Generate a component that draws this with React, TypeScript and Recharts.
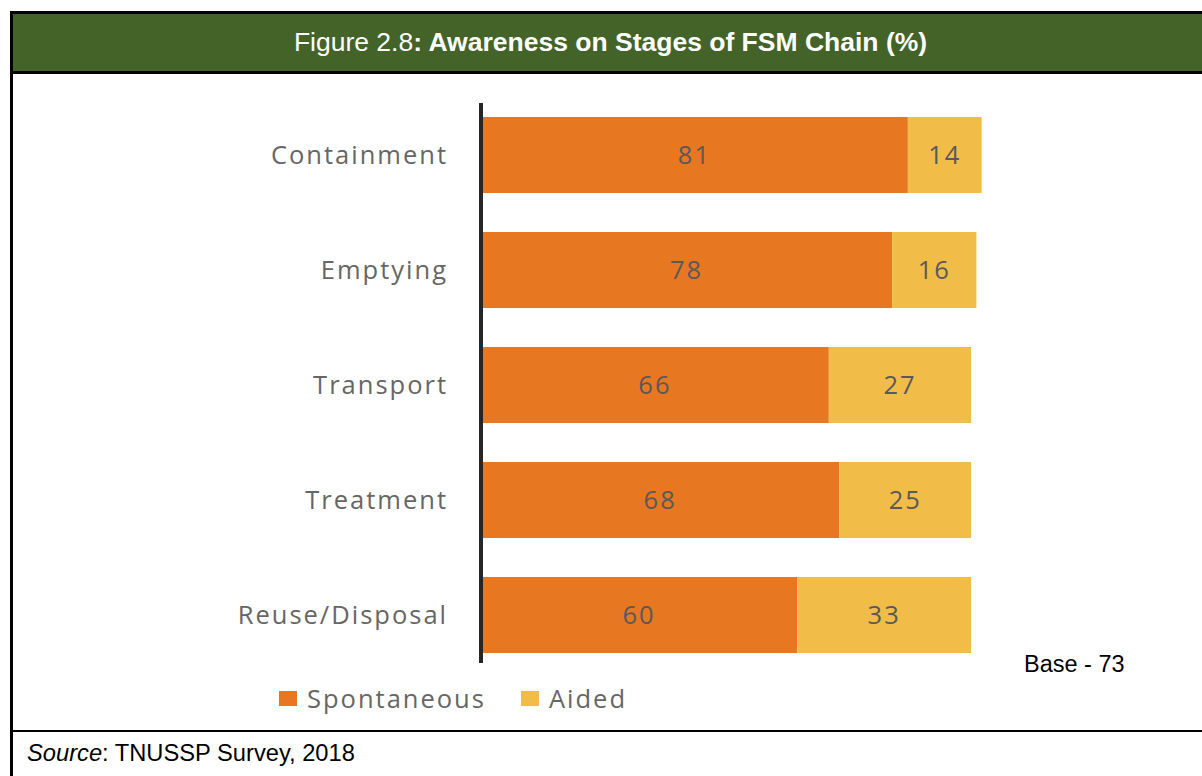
import React from "react";
import { BarChart, Bar, XAxis, YAxis, LabelList } from "recharts";

const categories = ["Containment", "Emptying", "Transport", "Treatment", "Reuse/Disposal"];
const spontaneous = [81, 78, 66, 68, 60];
const aided = [14, 16, 27, 25, 33];
const seriesNames = ["Spontaneous", "Aided"];
const seriesColors = ["#E87722", "#F1BD48"];

const data = categories.map((c, i) => ({ name: c, spontaneous: spontaneous[i], aided: aided[i] }));

const labelFont = { fontFamily: "'Open Sans', sans-serif", fontSize: 25.5, letterSpacing: 2 };

export default function App() {
  return (
    <div style={{ position: "absolute", left: 0, top: 0, width: 1202, height: 776, background: "#fff", overflow: "hidden", fontFamily: "'Liberation Sans', Arial, sans-serif" }}>
      {/* frame */}
      <div style={{ position: "absolute", left: 10, top: 11, width: 3, height: 765, background: "#000" }} />
      <div style={{ position: "absolute", left: 10, top: 11, width: 1192, height: 3, background: "#000" }} />
      <div style={{ position: "absolute", left: 13, top: 14, width: 1189, height: 57, background: "#436329" }} />
      <div style={{ position: "absolute", left: 10, top: 71, width: 1192, height: 2.5, background: "#000" }} />
      <div style={{ position: "absolute", left: 10, top: 729.5, width: 1192, height: 2.5, background: "#000" }} />
      <div style={{ position: "absolute", left: 11, top: 14, width: 1199, height: 57, display: "flex", alignItems: "center", justifyContent: "center", color: "#fff", fontSize: 26.5, whiteSpace: "nowrap" }}>
        <span>Figure 2.8</span><span style={{ fontWeight: "bold" }}>: Awareness on Stages of FSM Chain (%)</span>
      </div>
      <div style={{ position: "absolute", left: 27, top: 740, fontSize: 23.7, color: "#000", whiteSpace: "nowrap" }}>
        <i>Source</i>: TNUSSP Survey, 2018
      </div>
      <div style={{ position: "absolute", left: 1024, top: 651, fontSize: 23.5, color: "#000", whiteSpace: "nowrap" }}>Base - 73</div>

      <div style={{ position: "absolute", left: 0, top: 0 }}>
        <BarChart
          width={1202}
          height={776}
          data={data}
          layout="vertical"
          margin={{ top: 97, right: 194, bottom: 104, left: 0 }}
          barSize={76}
        >
          <XAxis type="number" domain={[0, 100]} hide />
          <YAxis
            type="category"
            dataKey="name"
            width={481}
            tickLine={false}
            tickSize={0}
            tickMargin={33}
            axisLine={{ stroke: "#262626", strokeWidth: 4, strokeDasharray: "0 6 560 100" }}
            tick={{ fill: "#666666", ...labelFont }}
          />
          <Bar dataKey="spontaneous" name={seriesNames[0]} stackId="a" fill={seriesColors[0]} isAnimationActive={false}>
            <LabelList dataKey="spontaneous" position="center" fill="#595959" style={labelFont} />
          </Bar>
          <Bar dataKey="aided" name={seriesNames[1]} stackId="a" fill={seriesColors[1]} isAnimationActive={false}>
            <LabelList dataKey="aided" position="center" fill="#595959" style={labelFont} />
          </Bar>
        </BarChart>
      </div>

      {/* legend */}
      <div style={{ position: "absolute", left: 279, top: 680, display: "flex", alignItems: "center", height: 36, ...labelFont, color: "#666666", whiteSpace: "nowrap" }}>
        {seriesNames.map((n, i) => (
          <div key={n} style={{ display: "flex", alignItems: "center", marginRight: i === 0 ? 35 : 0 }}>
            <div style={{ width: 18, height: 15, background: seriesColors[i], marginRight: 10 }} />
            <span>{n}</span>
          </div>
        ))}
      </div>
    </div>
  );
}
